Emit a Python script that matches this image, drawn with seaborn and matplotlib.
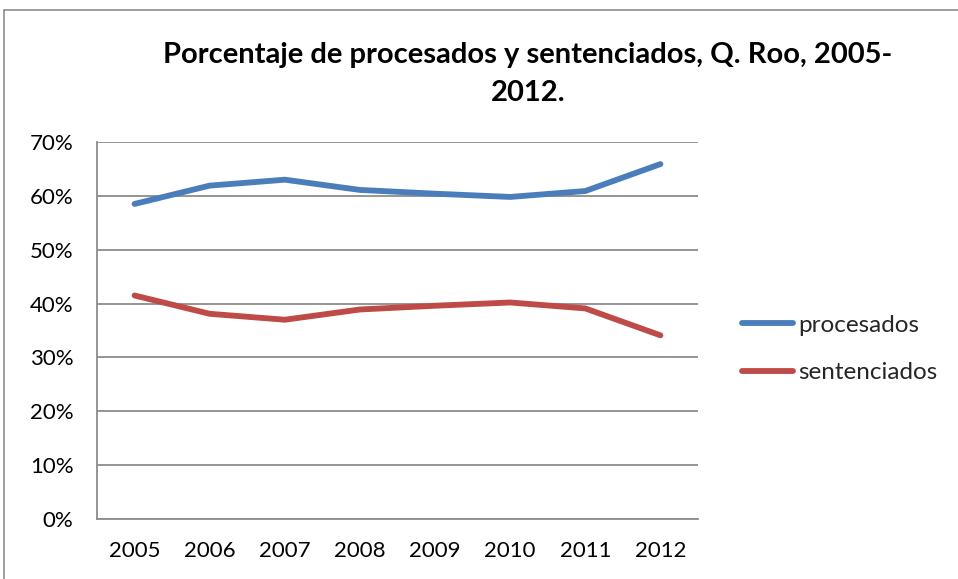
import matplotlib
matplotlib.use("Agg")
import matplotlib.pyplot as plt
import matplotlib.lines as mlines
import seaborn as sns
import pandas as pd
from matplotlib.ticker import FuncFormatter

years = ["2005", "2006", "2007", "2008", "2009", "2010", "2011", "2012"]
procesados = [58.5, 61.9, 63.0, 61.1, 60.4, 59.8, 60.9, 65.9]
sentenciados = [41.5, 38.1, 37.0, 38.9, 39.6, 40.2, 39.1, 34.1]
series_names = ["procesados", "sentenciados"]
colors = ["#4A7EBB", "#BE4B48"]
title = "Porcentaje de procesados y sentenciados, Q. Roo, 2005-\n2012."

df = pd.DataFrame({
    "year": years * 2,
    "value": [v / 100 for v in procesados] + [v / 100 for v in sentenciados],
    "serie": [series_names[0]] * len(years) + [series_names[1]] * len(years),
})

sns.set_theme(style="white")
plt.rcParams["font.family"] = ["Lato", "DejaVu Sans"]

fig = plt.figure(figsize=(9.58, 5.79), dpi=100)
ax = fig.add_axes([97 / 958, 1 - 519 / 579, (698 - 97) / 958, (519 - 142) / 579])

sns.lineplot(data=df, x="year", y="value", hue="serie", palette=colors,
             linewidth=4.2, ax=ax, legend=False, sort=False)
for ln in ax.get_lines():
    ln.set_solid_capstyle("round")
    ln.set_solid_joinstyle("round")

ax.set_xlim(-0.5, len(years) - 0.5)
ax.set_ylim(0, 0.7)
ax.set_yticks([i / 10 for i in range(8)])
ax.yaxis.set_major_formatter(FuncFormatter(lambda v, p: f"{v*100:.0f}%"))
ax.grid(axis="y", color="#8C8C8C", linewidth=1.3)
ax.grid(axis="x", visible=False)
ax.set_axisbelow(True)
for s in ["top", "right"]:
    ax.spines[s].set_visible(False)
for s in ["left", "bottom"]:
    ax.spines[s].set_color("#8C8C8C")
    ax.spines[s].set_linewidth(1.3)
ax.tick_params(axis="y", length=0, pad=17, labelsize=16, labelcolor="black")
ax.tick_params(axis="x", length=0, pad=16, labelsize=16, labelcolor="black")
ax.set_xlabel("")
ax.set_ylabel("")

fig.text(528 / 958, 1 - 74 / 579, title, ha="center", va="center",
         fontsize=21, fontweight="bold", linespacing=1.6, color="black")

handles = [mlines.Line2D([], [], color=c, linewidth=4.2, solid_capstyle="round") for c in colors]
fig.legend(handles, series_names, loc="center left",
           bbox_to_anchor=(720 / 958, 1 - 349 / 579), frameon=False,
           fontsize=17.5, handlelength=2.1, handletextpad=0.2, labelspacing=1.1)

# outer chart border
fig.add_artist(mlines.Line2D([4 / 958, 4 / 958], [0, 1 - 10 / 579],
                             transform=fig.transFigure, color="#8C8C8C", linewidth=1.2))
fig.add_artist(mlines.Line2D([4 / 958, 1], [1 - 10 / 579, 1 - 10 / 579],
                             transform=fig.transFigure, color="#8C8C8C", linewidth=1.2))

fig.savefig("out.png", dpi=100, facecolor="white")
